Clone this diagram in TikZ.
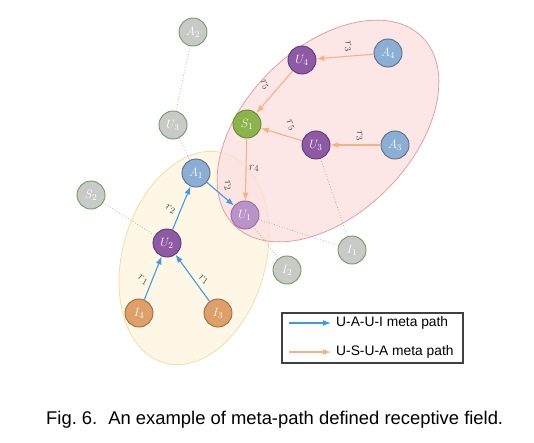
\documentclass[tikz,border=0pt]{standalone}
\usepackage{fontspec}
\newfontfamily\capfont{Liberation Sans}
\usepackage{tikz}
\usetikzlibrary{arrows.meta}
\usepackage{amsmath, amsfonts}

\definecolor{fadefill}{HTML}{C8CAC8}
\definecolor{fadeline}{HTML}{76995A}
\definecolor{authfill}{HTML}{8AAED4}
\definecolor{authline}{HTML}{5E6E80}
\definecolor{userfill}{HTML}{8E5AA6}
\definecolor{userline}{HTML}{5B3970}
\definecolor{userlite}{HTML}{BA94C8}
\definecolor{userliteline}{HTML}{8E6E9E}
\definecolor{subjfill}{HTML}{8DB34B}
\definecolor{subjline}{HTML}{66873A}
\definecolor{itemfill}{HTML}{DCA068}
\definecolor{itemline}{HTML}{9A6D45}
\definecolor{uaiblue}{HTML}{3D9BEB}
\definecolor{usuaorange}{HTML}{F7B283}
\definecolor{pinkfill}{HTML}{FBE0E0}
\definecolor{pinkline}{HTML}{E2A0A4}
\definecolor{yellowfill}{HTML}{FEF7E6}
\definecolor{yellowline}{HTML}{F1DFA8}
\definecolor{linkgray}{HTML}{A8A8A8}
\definecolor{relgray}{HTML}{454545}

\begin{document}
\begin{tikzpicture}[x=1pt, y=-1pt,
        main/.style = {draw, circle, minimum size=28pt, inner sep=0pt, line width=0.9pt, text=white, font=\fontsize{13}{13}\selectfont},
        faded/.style = {main, fill=fadefill, draw=fadeline},
        author/.style = {main, fill=authfill, draw=authline},
        user/.style = {main, fill=userfill, draw=userline},
        subj/.style = {main, fill=subjfill, draw=subjline},
        item/.style = {main, fill=itemfill, draw=itemline},
        uai/.style = {-Latex, color=uaiblue, line width=1.1pt},
        usua/.style = {-Latex, color=usuaorange, line width=1.1pt},
        link/.style = {draw=linkgray, dotted, line width=0.7pt},
        rel/.style = {font=\fontsize{12.5}{12.5}\selectfont, text=relgray, inner sep=0pt}]
            \useasboundingbox (0,0) rectangle (534,442);

            \draw[yellowline, fill=yellowfill, line width=0.8pt, rotate around={74:(194,258)}] (194,258) ellipse (109pt and 71.5pt);
            \draw[pinkline, fill=pinkfill, fill opacity=0.8, line width=0.8pt, rotate around={45:(328,131)}] (328,131) ellipse (133pt and 83pt);

            \node[faded] (A2) at (193,32) {$A_2$};
            \node[faded] (U3g) at (173,125) {$U_3$};
            \node[faded] (S2) at (91,195) {$S_2$};
            \node[faded] (I2) at (287,270) {$I_2$};
            \node[faded] (I1) at (352,250) {$I_1$};

            \node[author] (A1) at (196,173) {$A_1$};
            \node[author] (A4) at (388,53) {$A_4$};
            \node[author] (A3) at (395,145) {$A_3$};
            \node[user] (U4) at (302,60) {$U_4$};
            \node[user] (U3) at (316,145) {$U_3$};
            \node[user] (U2) at (167,243) {$U_2$};
            \node[main, fill=userlite, draw=userliteline] (U1) at (245,215) {$U_1$};
            \node[subj] (S1) at (247,124) {$S_1$};
            \node[item] (I4) at (139,313) {$I_4$};
            \node[item] (I3) at (218,313) {$I_3$};

            \path[link] (A2) -- (U3g) (U3g) -- (A1) (S2) -- (U2);
            \path[link] (U1) -- (I1) (U1) -- (I2) (U3) -- (I1);

            \path[uai] (I4) edge node[rel, shift={(-10,2)}, rotate=-30] {$r_1$} (U2);
            \path[uai] (I3) edge node[rel, shift={(11,2)}, rotate=-35] {$r_1$} (U2);
            \path[uai] (U2) edge node[rel, shift={(-11,1)}, rotate=-25] {$r_2$} (A1);
            \path[uai] (A1) edge node[rel, shift={(7,-8)}, rotate=-75] {$r_2$} (U1);

            \path[usua] (A4) edge node[rel, shift={(3,-10)}, rotate=-80] {$r_3$} (U4);
            \path[usua] (U4) edge node[rel, shift={(-10,-7)}, rotate=-60] {$r_5$} (S1);
            \path[usua] (A3) edge node[rel, shift={(4,-9)}, rotate=-80] {$r_3$} (U3);
            \path[usua] (U3) edge node[rel, shift={(9,-9)}, rotate=-60] {$r_5$} (S1);
            \path[usua] (S1) edge node[rel, shift={(8,-1)}] {$r_4$} (U1);

            % legend
            \node[draw=black!75, line width=1.1pt, minimum width=181pt, minimum height=50pt, inner sep=0pt] (legend) at (372.5,338) {};
            \coordinate (uaistart) at (289,323);
            \coordinate (uaiend) at (331,323);
            \coordinate (usuastart) at (289,352);
            \coordinate (usuaend) at (331,352);
            \draw[uai] (uaistart) -- (uaiend);
            \draw[usua] (usuastart) -- (usuaend);
            \node[anchor=west, inner sep=0pt, font=\capfont\fontsize{13.8}{14}\selectfont] (uaitext) at (336,323) {U-A-U-I meta path};
            \node[anchor=west, inner sep=0pt, font=\capfont\fontsize{13.8}{14}\selectfont] (usuatext) at (336,352) {U-S-U-A meta path};

            \node[anchor=base west, inner sep=0pt, font=\capfont\fontsize{18.4}{19}\selectfont] (caption) at (46,424) {Fig.~6.\hspace{0.6em}An example of meta-path defined receptive field.};
        \end{tikzpicture}
\end{document}
